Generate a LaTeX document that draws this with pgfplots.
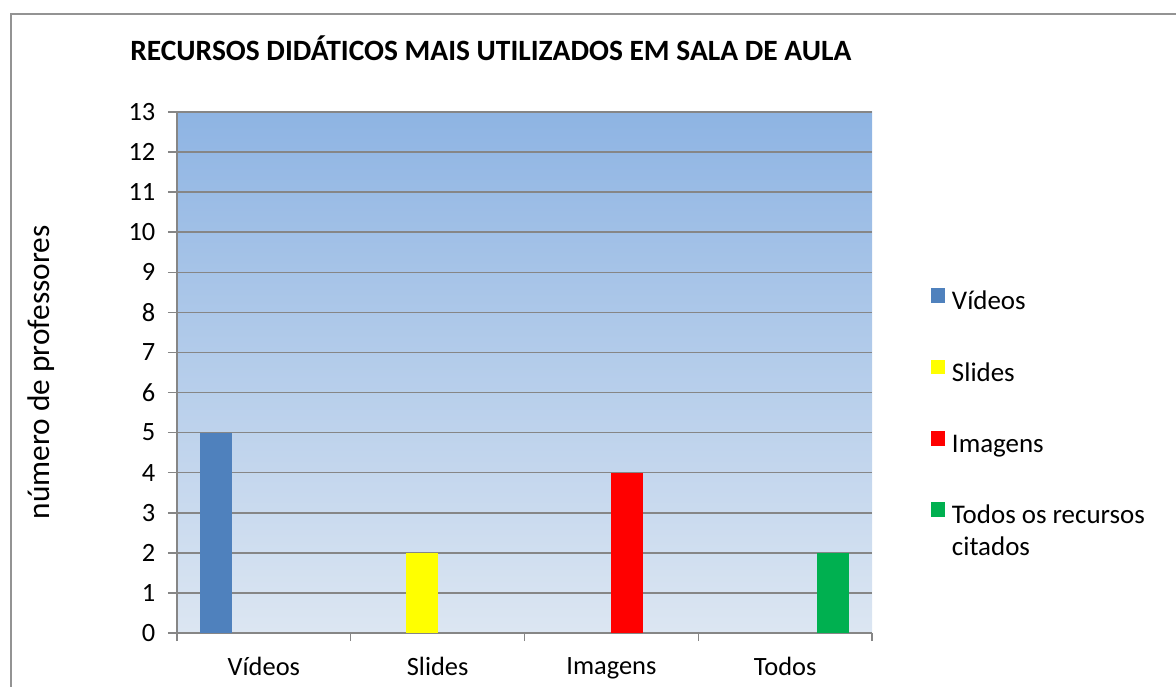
\documentclass[border=0pt]{standalone}
\usepackage{fontspec}
\setmainfont{Carlito}
\usepackage{pgfplots}
\pgfplotsset{compat=1.18}
\definecolor{cvid}{HTML}{4F81BD}
\definecolor{csli}{HTML}{FFFF00}
\definecolor{cima}{HTML}{FF0000}
\definecolor{ctod}{HTML}{00B050}
\definecolor{bgtop}{HTML}{8EB4E3}
\definecolor{bgbot}{HTML}{DCE6F2}
\definecolor{gline}{HTML}{868686}
\begin{document}
\begin{tikzpicture}
\useasboundingbox (0pt,0pt) rectangle (882pt,514.5pt);
\draw[color=gray!85, line width=1.1pt] (8.25pt,504pt) rectangle (900pt,-15pt);
\begin{axis}[
  at={(132.75pt,39.75pt)}, anchor=south west, scale only axis,
  width=521.25pt, height=390.75pt,
  xmin=0.5, xmax=4.5, ymin=0, ymax=13,
  ytick={0,1,...,13},
  xtick={1,2,3,4}, xticklabels={Vídeos,Slides,Imagens,Todos},
  minor xtick={0.5,1.5,2.5,3.5,4.5},
  axis x line*=bottom, axis y line*=left,
  axis line style={gline, line width=1.1pt, -},
  tick align=outside, major tick length=6.75pt, minor tick length=6pt,
  tick style={gline, line width=1.1pt},
  major x tick style={draw=none},
  ymajorgrids, grid style={gline, line width=1.1pt},
  axis background/.style={top color=bgtop, bottom color=bgbot},
  ybar, bar width=0.184, bar shift=0pt,
  /pgf/number format/assume math mode=true,
  tick label style={font=\fontsize{19.8}{23}\selectfont},
  yticklabel style={xshift=-6pt},
  xticklabel style={yshift=-8pt},
  title={\textbf{RECURSOS DIDÁTICOS MAIS UTILIZADOS EM SALA DE AULA}},
  title style={at={(0.4515,1)}, anchor=center, yshift=41.5pt, font=\fontsize{22.1}{26}\selectfont},
  ylabel={número de professores},
  ylabel style={at={(axis description cs:-0.1957,0.5)}, anchor=center, font=\fontsize{23.5}{28}\selectfont},
  legend image code/.code={\fill[#1,draw=none] (0pt,0pt) rectangle (11pt,11pt);},
  legend style={at={(1.084,0.662)}, anchor=north west, draw=none, fill=none,
    inner sep=0pt, row sep=33.5pt, column sep=5pt,
    font=\fontsize{20.2}{24}\selectfont,
    nodes={inner sep=0pt, text height=14pt, text depth=4pt}},
  legend cell align=left,
]
\addplot[fill=cvid, draw=none] coordinates {(0.724,5)};
\addplot[fill=csli, draw=none] coordinates {(1.908,2)};
\addplot[fill=cima, draw=none] coordinates {(3.092,4)};
\addplot[fill=ctod, draw=none] coordinates {(4.276,2)};
\legend{Vídeos,Slides,Imagens,{\begin{tabular}[t]{@{}l@{}}Todos os recursos\\citados\end{tabular}}}
\end{axis}
\end{tikzpicture}
\end{document}
